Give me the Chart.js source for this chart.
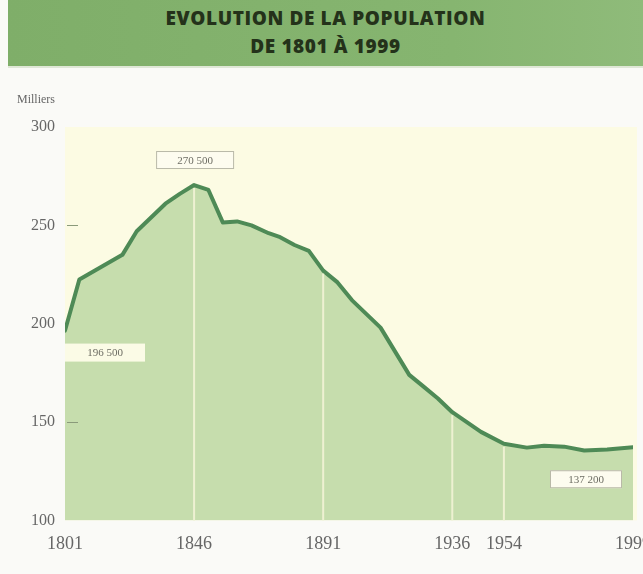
<!DOCTYPE html>
<html>
<head>
<meta charset="utf-8">
<script src="https://cdn.jsdelivr.net/npm/chart.js@4"></script>
<style>
  html, body { margin: 0; padding: 0; background: #fafaf7; }
  #wrap { position: relative; width: 643px; height: 574px; overflow: hidden; }
  #banner {
    position: absolute; left: 8px; top: 0; width: 635px; height: 68px;
    background: linear-gradient(to right, #7fae69, #86b570 70%, #8fbb7a);
    border-bottom: 2px solid #dfe7d6;
    text-align: center;
    font-family: "Open Sans", sans-serif; font-weight: 800; font-size: 19px;
    letter-spacing: 0.6px;
    color: #24321a; line-height: 28px; padding-top: 4px; box-sizing: border-box;
  }
  #unit {
    position: absolute; left: 17px; top: 92px;
    font-family: "Liberation Serif", serif; font-size: 12px; color: #666;
  }
  canvas { position: absolute; left: 0; top: 0; }
</style>
</head>
<body>
<div id="wrap">
  <canvas id="chart" width="643" height="574"></canvas>
  <div id="banner">EVOLUTION DE LA POPULATION<br>DE 1801 À 1999</div>
  <div id="unit">Milliers</div>
</div>
<script>
// Population (milliers) by census year
const years = [1801, 1806, 1821, 1826, 1831, 1836, 1841, 1846, 1851, 1856, 1861, 1866,
  1872, 1876, 1881, 1886, 1891, 1896, 1901, 1906, 1911, 1921, 1926, 1931, 1936, 1946,
  1954, 1962, 1968, 1975, 1982, 1990, 1999];
const population = [196.5, 222.5, 235, 247, 254, 261, 266, 270.5, 268, 251.5, 252, 250,
  246, 244, 240, 237, 227, 221, 212, 205, 198, 174, 168, 162, 155, 145,
  139, 137, 138, 137.5, 135.5, 136, 137.2];

const xTicks = [1801, 1846, 1891, 1936, 1954, 1999];
const yTicks = [100, 150, 200, 250, 300];
const markedYears = [1846, 1891, 1936, 1954];

// Labelled values
const noteYears = [1846, 1801, 1999];
const noteText = ['270 500', '196 500', '137 200'];

const points = years.map((y, i) => ({ x: y, y: population[i] }));

// cream plot background
const plotBg = {
  id: 'plotBg',
  beforeDraw(chart) {
    const { ctx, chartArea: a } = chart;
    ctx.save();
    ctx.fillStyle = '#fcfbe3';
    ctx.fillRect(a.left, a.top, a.right - a.left + 4, a.bottom - a.top);
    ctx.restore();
  }
};

// light vertical lines inside the filled area, up to the curve
const markLines = {
  id: 'markLines',
  afterDatasetsDraw(chart) {
    const { ctx, scales, chartArea: a } = chart;
    const meta = chart.getDatasetMeta(0);
    ctx.save();
    ctx.strokeStyle = '#eef1d2';
    ctx.lineWidth = 2;
    markedYears.forEach(yr => {
      const px = scales.x.getPixelForValue(yr);
      // curve height at this x, taken from the drawn line elements
      let top = a.bottom;
      for (let i = 0; i < meta.data.length - 1; i++) {
        const p0 = meta.data[i], p1 = meta.data[i + 1];
        if (px >= p0.x && px <= p1.x) {
          const t = (px - p0.x) / (p1.x - p0.x || 1);
          top = p0.y + t * (p1.y - p0.y) + 3;
          break;
        }
      }
      ctx.beginPath();
      ctx.moveTo(px, a.bottom);
      ctx.lineTo(px, top);
      ctx.stroke();
    });
    // short ticks at 250 and 150
    ctx.strokeStyle = '#8a9a7a';
    ctx.lineWidth = 1;
    [250, 150].forEach(v => {
      const py = Math.round(scales.y.getPixelForValue(v)) + 0.5;
      ctx.beginPath();
      ctx.moveTo(a.left + 2, py);
      ctx.lineTo(a.left + 13, py);
      ctx.stroke();
    });
    ctx.restore();
  }
};

// value boxes
const notes = {
  id: 'notes',
  afterDatasetsDraw(chart) {
    const { ctx, scales } = chart;
    ctx.save();
    ctx.font = '11px "Liberation Serif", serif';
    ctx.textBaseline = 'middle';
    ctx.textAlign = 'center';
    noteYears.forEach((yr, k) => {
      const idx = years.indexOf(yr);
      const px = scales.x.getPixelForValue(yr);
      const py = scales.y.getPixelForValue(population[idx]);
      const w = k === 0 ? 78 : (k === 1 ? 80 : 72);
      const h = 18;
      let cx, cy;
      if (k === 0) { cx = px + 1; cy = py - 25; }
      else if (k === 1) { cx = px + w / 2; cy = py + 22; }
      else { cx = px - 11 - w / 2; cy = py + 32; }
      ctx.fillStyle = k === 1 ? '#fbfbe6' : '#fdfcef';
      ctx.fillRect(cx - w / 2, cy - h / 2, w, h);
      ctx.strokeStyle = '#b9b9a8';
      ctx.lineWidth = 1;
      if (k !== 1) ctx.strokeRect(cx - w / 2 + 0.5, cy - h / 2 + 0.5, w - 1, h - 1);
      ctx.fillStyle = '#6d6d63';
      ctx.fillText(noteText[k], cx, cy + 1);
    });
    ctx.restore();
  }
};

new Chart(document.getElementById('chart'), {
  type: 'line',
  data: {
    datasets: [{
      data: points,
      borderColor: '#4e8a56',
      backgroundColor: '#c6ddad',
      borderWidth: 4,
      fill: 'start',
      tension: 0,
      pointRadius: 0,
      borderJoinStyle: 'round',
      borderCapStyle: 'round'
    }]
  },
  options: {
    responsive: false,
    animation: false,
    layout: { padding: { top: 127, right: 10, bottom: 6, left: 0 } },
    plugins: { legend: { display: false }, tooltip: { enabled: false } },
    scales: {
      x: {
        type: 'linear',
        min: 1801,
        max: 1999,
        afterBuildTicks: s => { s.ticks = xTicks.map(v => ({ value: v })); },
        afterFit: s => { s.paddingLeft = 0; s.paddingRight = 0; },
        ticks: {
          color: '#666',
          font: { family: '"Liberation Serif", serif', size: 18 },
          padding: 13,
          maxRotation: 0,
          autoSkip: false,
          callback: v => String(v)
        },
        grid: { display: false, drawTicks: false },
        border: { display: false }
      },
      y: {
        min: 100,
        max: 300,
        afterBuildTicks: s => { s.ticks = yTicks.map(v => ({ value: v })); },
        afterFit: s => { s.width = 65; },
        ticks: {
          color: '#666',
          font: { family: '"Liberation Serif", serif', size: 16 },
          padding: 10
        },
        grid: { display: false, drawTicks: false },
        border: { display: false }
      }
    }
  },
  plugins: [plotBg, markLines, notes]
});
</script>
</body>
</html>
